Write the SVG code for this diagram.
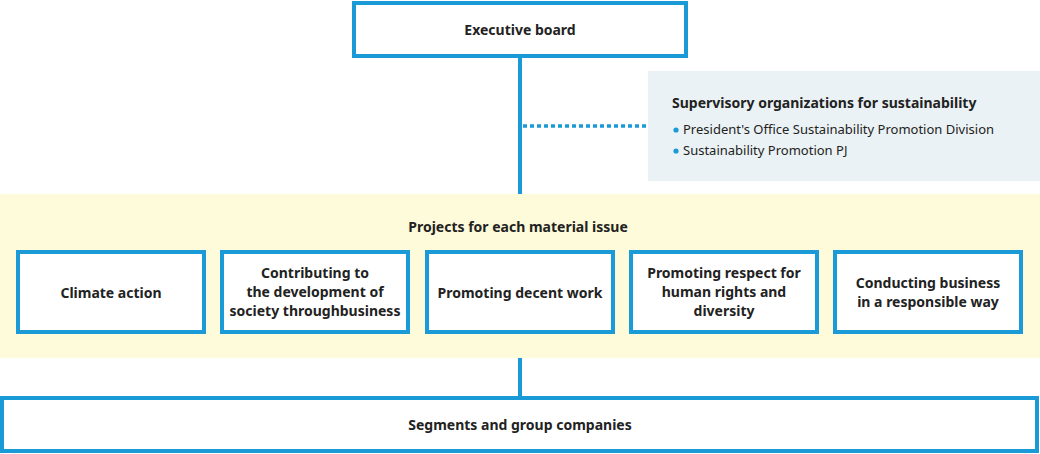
<svg xmlns="http://www.w3.org/2000/svg" width="1040" height="454" viewBox="0 0 1040 454">
<style>
.b{fill:#fff;stroke:#1a9ad6;stroke-width:4}
text{font-family:"Noto Sans","Liberation Sans",sans-serif;fill:#222;font-size:14px;font-weight:bold;text-anchor:middle}
.s{font-weight:normal;font-size:13px;text-anchor:start}
</style>
<rect width="1040" height="454" fill="#fff"/>
<rect x="0" y="194" width="1040" height="164" fill="#fdfbd9"/>
<g id="connectors" stroke="#1a9ad6" stroke-width="4">
<line x1="520" y1="56" x2="520" y2="194"/>
<line x1="520" y1="358" x2="520" y2="397"/>
<line x1="523" y1="126" x2="646" y2="126" stroke-width="3.5" stroke-dasharray="4,3"/>
</g>
<g id="exec"><rect class="b" x="354" y="3" width="332" height="53"/><text x="520" y="35">Executive board</text></g>
<g id="supervisory"><rect x="648" y="71" width="392" height="110" fill="#ebf2f5"/>
<text x="672" y="108" style="text-anchor:start">Supervisory organizations for sustainability</text>
<circle cx="676" cy="130" r="2.6" fill="#1a9ad6"/><text class="s" x="683" y="134">President's Office Sustainability Promotion Division</text>
<circle cx="676" cy="151" r="2.6" fill="#1a9ad6"/><text class="s" x="683" y="155">Sustainability Promotion PJ</text></g>
<text x="518" y="232">Projects for each material issue</text>
<g id="n1"><rect class="b" x="18" y="252" width="186" height="80"/><text x="111" y="298">Climate action</text></g>
<g id="n2"><rect class="b" x="222" y="252" width="186" height="80"/><text x="315" y="278">Contributing to</text><text x="315" y="297">the development of</text><text x="315" y="316">society throughbusiness</text></g>
<g id="n3"><rect class="b" x="427" y="252" width="186" height="80"/><text x="520" y="298">Promoting decent work</text></g>
<g id="n4"><rect class="b" x="631" y="252" width="186" height="80"/><text x="724" y="278">Promoting respect for</text><text x="724" y="297">human rights and</text><text x="724" y="316">diversity</text></g>
<g id="n5"><rect class="b" x="835" y="252" width="186" height="80"/><text x="928" y="288">Conducting business</text><text x="928" y="307">in a responsible way</text></g>
<g id="seg"><rect class="b" x="2" y="398" width="1035" height="53"/><text x="520" y="430">Segments and group companies</text></g>
</svg>
